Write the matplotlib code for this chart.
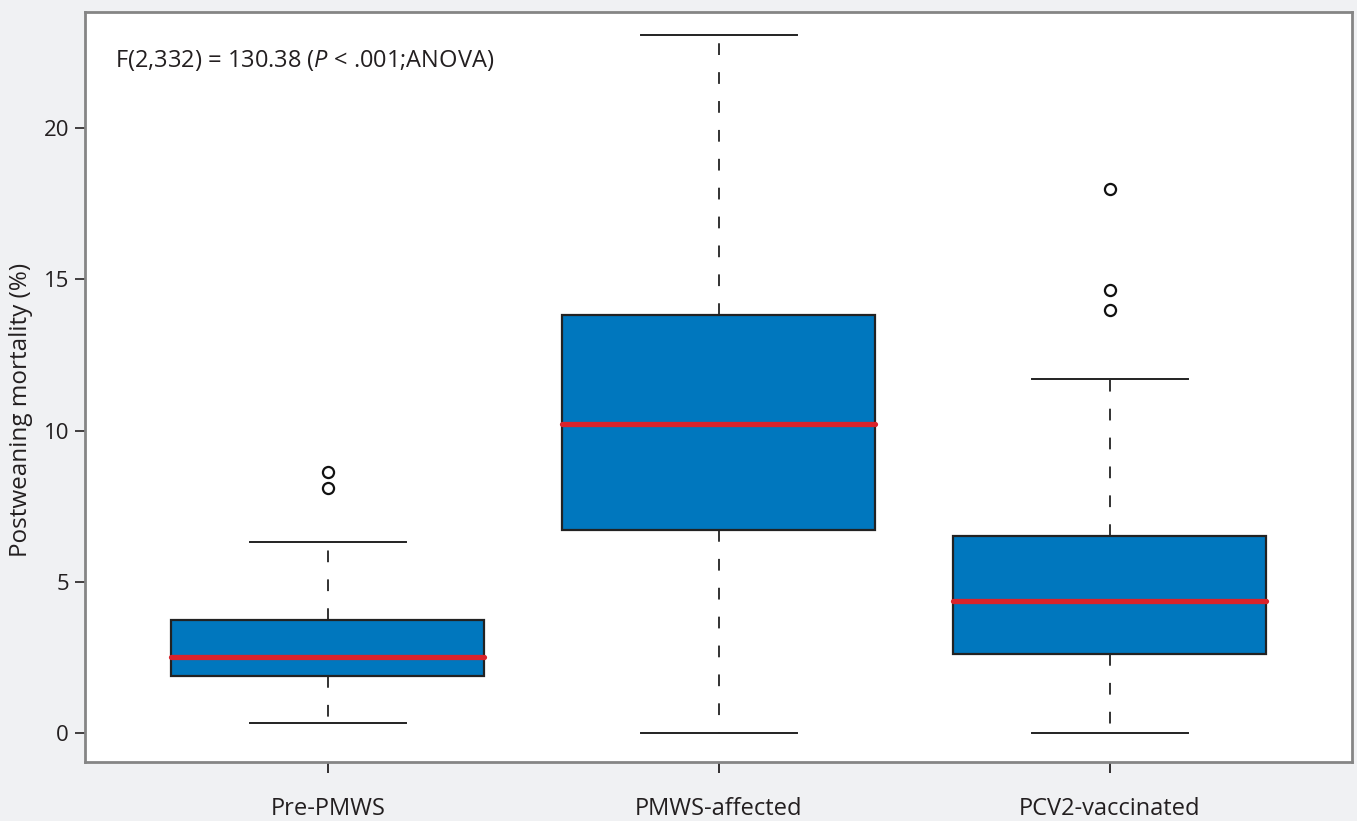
import matplotlib
matplotlib.use("Agg")
import matplotlib.pyplot as plt

#==================================================================
#   Postweaning mortality by herd status (box plot from summary)
#==================================================================

groups = ['Pre-PMWS', 'PMWS-affected', 'PCV2-vaccinated']
q1 = [1.87, 6.71, 2.61]
medians = [2.50, 10.21, 4.35]
q3 = [3.73, 13.82, 6.51]
whislo = [0.32, 0.0, 0.0]
whishi = [6.30, 23.07, 11.72]
outliers = [[8.10, 8.63], [], [13.98, 14.66, 17.99]]
yticks = [0, 5, 10, 15, 20]

plt.rcParams['font.family'] = ['Open Sans', 'DejaVu Sans']
plt.rcParams['mathtext.fontset'] = 'custom'
plt.rcParams['mathtext.rm'] = 'Open Sans'
plt.rcParams['mathtext.it'] = 'Open Sans:italic'

text_col = '#231f20'
edge_col = '#222222'

fig = plt.figure(figsize=(13.57, 8.21), dpi=100, facecolor='#f0f1f3')
ax = fig.add_axes([0.0626, 0.0719, 0.9337, 0.9135])
ax.set_facecolor('white')

stats = []
for i in range(len(groups)):
  stats.append(dict(label=groups[i], q1=q1[i], med=medians[i], q3=q3[i],
                    whislo=whislo[i], whishi=whishi[i], fliers=outliers[i]))

ax.bxp(stats, positions=[1, 2, 3], widths=0.8, capwidths=0.4,
       patch_artist=True, showfliers=True,
       boxprops=dict(facecolor='#0077be', edgecolor=edge_col, linewidth=1.6),
       medianprops=dict(color='#d9232b', linewidth=3.8, solid_capstyle='round'),
       whiskerprops=dict(color=edge_col, linewidth=1.3, linestyle=(0, (6.5, 9.5))),
       capprops=dict(color=edge_col, linewidth=1.4),
       flierprops=dict(marker='o', markerfacecolor='none', markeredgecolor='#111111',
                       markersize=8, markeredgewidth=1.6))

ax.set_xlim(0.379, 3.619)
ax.set_ylim(-0.96, 23.84)
ax.set_yticks(yticks)
ax.set_xticks([1, 2, 3])
ax.set_xticklabels(groups)

for s in ax.spines.values():
  s.set_color('#858585')
  s.set_linewidth(2)

ax.tick_params(axis='y', length=7.5, width=1.2, color=text_col, labelcolor=text_col,
               labelsize=16, pad=4)
ax.tick_params(axis='x', length=8, width=1.3, color=text_col, labelcolor=text_col,
               labelsize=17, pad=17)

ax.set_ylabel('Postweaning mortality (%)', fontsize=17.5, color=text_col)
ax.yaxis.set_label_coords(-0.041, 0.47)

ax.text(0.0237, 0.935, r'F(2,332) = 130.38 ($\mathit{P}$ < .001;ANOVA)',
        transform=ax.transAxes, fontsize=17, color=text_col, va='center', ha='left')

fig.savefig('out.png', dpi=100, facecolor=fig.get_facecolor())
